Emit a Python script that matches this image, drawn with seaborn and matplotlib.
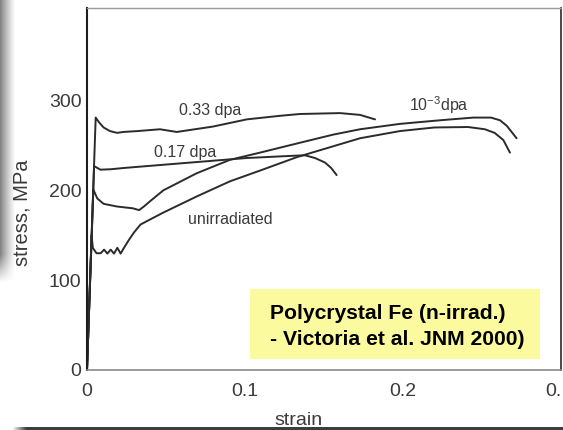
import numpy as np
import pandas as pd
import matplotlib
matplotlib.use("Agg")
import matplotlib.pyplot as plt
import seaborn as sns

# ---------------- data ----------------
strain_033 = [0.0, 0.0055, 0.0075, 0.0105, 0.0145, 0.0190, 0.0230, 0.0320, 0.0462, 0.0568,
              0.0797, 0.1011, 0.1222, 0.1348, 0.1601, 0.1728, 0.1823]
stress_033 = [0, 281, 276, 270, 266, 264, 265, 266, 268, 265,
              271, 279, 283, 285, 286, 284, 279]

strain_017 = [0.0, 0.0045, 0.0085, 0.0150, 0.0240, 0.0589, 0.1011, 0.1306, 0.1380,
              0.1443, 0.1506, 0.1545, 0.1580]
stress_017 = [0, 227, 223, 223.5, 225, 230, 236, 238.5, 239,
              236, 231, 225, 217]

strain_1e3 = [0.0, 0.0040, 0.0065, 0.0105, 0.0190, 0.0290, 0.0330, 0.0360, 0.0400,
              0.0483, 0.0694, 0.0905, 0.1095, 0.1348, 0.1557, 0.1728, 0.1981, 0.2234,
              0.2445, 0.2557, 0.2614, 0.2656, 0.2719]
stress_1e3 = [0, 201, 191, 185, 182, 180, 178, 182, 188,
              200, 219, 234, 242, 253, 262, 268, 274, 278,
              281, 281, 278, 272, 258]

strain_unirr = [0.0, 0.0029, 0.0037, 0.0060, 0.0087, 0.0108, 0.0129, 0.0150, 0.0171,
                0.0192, 0.0213, 0.0234, 0.0266, 0.0297, 0.0339, 0.0480, 0.0692, 0.0904,
                0.1095, 0.1329, 0.1538, 0.1728, 0.1981, 0.2199, 0.2412, 0.2518, 0.2580,
                0.2635, 0.2677]
stress_unirr = [0, 150, 136, 130, 130, 134, 129.6, 134, 129.6,
                136, 129.6, 136, 145, 153, 162, 175, 193, 210,
                222, 237, 248, 258, 266, 270, 270.5, 268, 264,
                256, 242]

curve_labels = ["0.33 dpa", "0.17 dpa", r"10$^{-3}$dpa", "unirradiated"]
label_strain = [0.078, 0.062, 0.223, 0.0905]
label_stress = [289, 242.5, 295, 167]

x_ticks = [0, 0.1, 0.2, 0.3]
x_tick_labels = ["0", "0.1", "0.2", "0."]
y_ticks = [0, 100, 200, 300]
y_tick_labels = ["0", "100", "200", "300"]

box_lines = ["Polycrystal Fe (n-irrad.)", "- Victoria et al. JNM 2000)"]

# ---------------- styling ----------------
sns.set_style("white")
plt.rcParams["font.family"] = ["Liberation Sans", "DejaVu Sans"]
plt.rcParams["mathtext.fontset"] = "custom"
plt.rcParams["mathtext.rm"] = "Liberation Sans"
plt.rcParams["mathtext.it"] = "Liberation Sans:italic"

W, H = 563, 430
fig = plt.figure(figsize=(W / 100, H / 100), dpi=100)
fig.patch.set_facecolor("white")

# background decoration: slide shadow at left and dark bar at bottom
bg = fig.add_axes([0, 0, 1, 1], zorder=-5)
bg.set_xlim(0, W)
bg.set_ylim(H, 0)
bg.axis("off")
img = np.ones((H, W, 4))
img[..., 3] = 0.0
xs = np.arange(W)
ys = np.arange(H)
shade_x = np.clip(1 - xs / 15.0, 0, 1) ** 1.2
shade_y = np.clip((282 - ys) / 28.0, 0, 1)
alpha = 0.7 * shade_y[:, None] * shade_x[None, :]
img[..., 0:3] = 0.32
img[..., 3] = alpha
bar_x = np.clip((xs - 12) / 14.0, 0, 1)
img[427:, :, 3] = np.maximum(img[427:, :, 3], bar_x[None, :])
img[427:, :, 0:3] = 0.24
bg.imshow(img, extent=[0, W, H, 0], aspect="auto", interpolation="bilinear")

ax = fig.add_axes([87 / W, 1 - 370 / H, 474 / W, 362 / H])
ax.set_facecolor("white")

line_color = "#2b2b2b"
series = [(strain_033, stress_033), (strain_017, stress_017),
          (strain_1e3, stress_1e3), (strain_unirr, stress_unirr)]
for sx, sy in series:
    df = pd.DataFrame({"strain": sx, "stress": sy})
    sns.lineplot(data=df, x="strain", y="stress", sort=False, estimator=None,
                 color=line_color, linewidth=1.4, ax=ax, legend=False)

for lab, lx, ly in zip(curve_labels, label_strain, label_stress):
    ax.text(lx, ly, lab, ha="center", va="center", fontsize=11.5, color="#3a3a3a")

ax.set_xlim(0, 0.3)
ax.set_ylim(0, 403)
ax.set_xticks(x_ticks)
ax.set_xticklabels(x_tick_labels)
ax.set_yticks(y_ticks)
ax.set_yticklabels(y_tick_labels)
ax.tick_params(axis="both", direction="in", length=6, width=1.0, color="#b0b0b0",
               labelsize=14, labelcolor="#3a3a3a")
ax.tick_params(axis="x", pad=9)
ax.tick_params(axis="y", pad=4)
# the last tick label is clipped by the slide edge in the reference: keep it inside
ax.get_xticklabels()[-1].set_horizontalalignment("right")

ax.set_xlabel("strain", fontsize=14, color="#3a3a3a")
ax.set_ylabel("stress, MPa", fontsize=14.5, color="#3a3a3a")
ax.xaxis.set_label_coords(0.447, -0.115)
ax.yaxis.set_label_coords(-0.118, 0.434)

for side, c, w in [("left", "#1e1e1e", 1.5), ("bottom", "#8a8a8a", 1.2),
                   ("top", "#9a9a9a", 1.0), ("right", "#3a3a3a", 1.3)]:
    ax.spines[side].set_visible(True)
    ax.spines[side].set_color(c)
    ax.spines[side].set_linewidth(w)

# yellow annotation box
box = plt.Rectangle((250 / W, 1 - 359 / H), 290 / W, 70 / H, transform=fig.transFigure,
                    facecolor="#fcfa9e", edgecolor="none", zorder=10)
fig.patches.append(box)
fig.text(270 / W, 1 - 319 / H, box_lines[0], fontsize=15.2, fontweight="bold",
         color="black", ha="left", va="baseline", zorder=11)
fig.text(270 / W, 1 - 345 / H, box_lines[1], fontsize=15.2, fontweight="bold",
         color="black", ha="left", va="baseline", zorder=11)

fig.savefig("out.png", dpi=100)
